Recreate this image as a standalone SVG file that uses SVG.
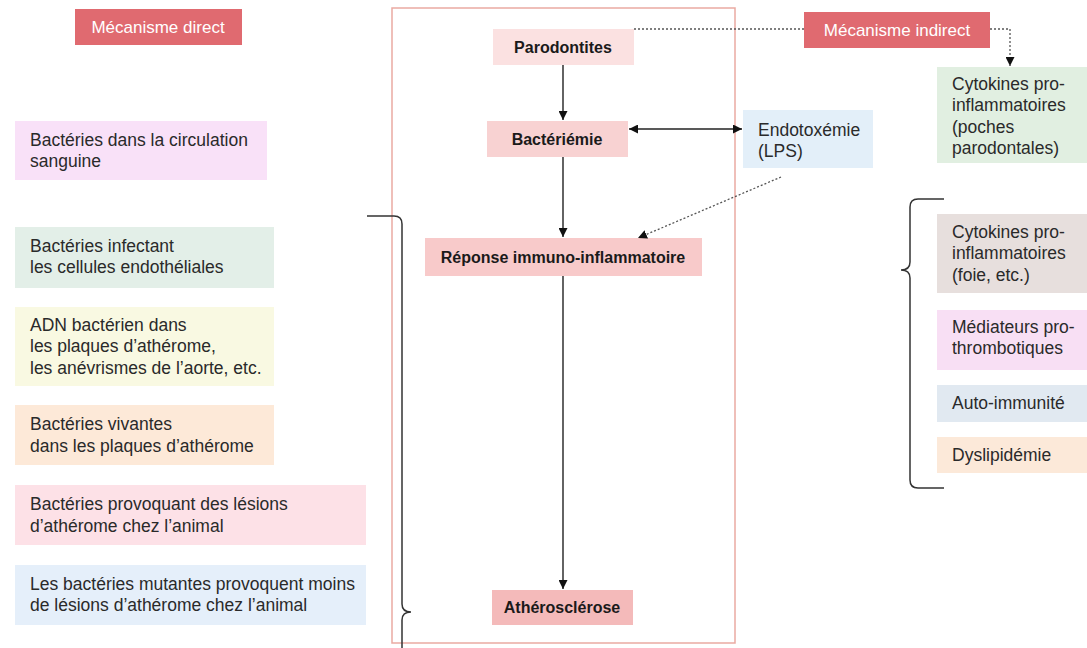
<svg xmlns="http://www.w3.org/2000/svg" width="1087" height="648" viewBox="0 0 1087 648">
<style>
text{font-family:"Liberation Sans",Arial,Helvetica,sans-serif;font-size:17.5px;fill:#2a2a2a}
.b{font-weight:bold;font-size:16px;text-anchor:middle;fill:#1a1a1a}
.hd{fill:#ffffff;text-anchor:middle;font-size:17px}
.hdbox{fill:#e06a70}
.ln{stroke:#222;stroke-width:1.4;fill:none}
.dot{stroke:#555;stroke-width:1.3;fill:none;stroke-dasharray:2 2}
.br{stroke:#333;stroke-width:1.5;fill:none}
</style>
<defs>
<marker id="ah" viewBox="0 0 10 10" refX="10" refY="5" markerWidth="9" markerHeight="9" markerUnits="userSpaceOnUse" orient="auto-start-reverse">
<path d="M0,0 L10,5 L0,10 Z" fill="#111"/>
</marker>
</defs>
<rect width="1087" height="648" fill="#ffffff"/>

<g id="frame"><rect x="392" y="8" width="343" height="635" fill="none" stroke="#eaaaa2" stroke-width="1.5"/></g>

<g id="mecanisme-direct"><rect class="hdbox" x="75" y="9" width="167" height="36"/><text class="hd" x="158" y="33">Mécanisme direct</text></g>
<g id="mecanisme-indirect"><rect class="hdbox" x="804" y="12" width="186" height="36"/><text class="hd" x="897" y="36">Mécanisme indirect</text></g>

<g id="parodontites"><rect x="493" y="29" width="141" height="36" fill="#fbe1e1"/><text class="b" x="563" y="53">Parodontites</text></g>
<g id="bacteriemie"><rect x="487" y="121" width="141" height="36" fill="#f8d2d2"/><text class="b" x="557" y="145">Bactériémie</text></g>
<g id="endotoxemie"><rect x="743" y="110" width="130" height="58" fill="#e3eff9"/><text x="758" y="136">Endotoxémie</text><text x="758" y="157">(LPS)</text></g>
<g id="reponse"><rect x="425" y="238" width="277" height="38" fill="#f8caca"/><text class="b" x="563" y="263">Réponse immuno-inflammatoire</text></g>
<g id="atherosclerose"><rect x="492" y="590" width="141" height="35" fill="#f4baba"/><text class="b" x="562" y="613">Athérosclérose</text></g>

<g id="cytokines-poches"><rect x="937" y="67" width="150" height="96" fill="#e1efe1"/><text x="952" y="90">Cytokines pro-</text><text x="952" y="111">inflammatoires</text><text x="952" y="133">(poches</text><text x="952" y="154">parodontales)</text></g>
<g id="cytokines-foie"><rect x="937" y="214" width="150" height="79" fill="#e7dfdd"/><text x="952" y="238">Cytokines pro-</text><text x="952" y="259">inflammatoires</text><text x="952" y="281">(foie, etc.)</text></g>
<g id="mediateurs"><rect x="937" y="310" width="150" height="60" fill="#f8dff4"/><text x="952" y="333">Médiateurs pro-</text><text x="952" y="354">thrombotiques</text></g>
<g id="auto-immunite"><rect x="937" y="385" width="150" height="37" fill="#e1e9f1"/><text x="952" y="409">Auto-immunité</text></g>
<g id="dyslipidemie"><rect x="937" y="437" width="150" height="36" fill="#fce9d9"/><text x="952" y="461">Dyslipidémie</text></g>

<g id="circulation"><rect x="15" y="121" width="252" height="59" fill="#f9e1f8"/><text x="30" y="146">Bactéries dans la circulation</text><text x="30" y="167">sanguine</text></g>
<g id="endotheliales"><rect x="15" y="227" width="259" height="61" fill="#e3efe8"/><text x="30" y="252">Bactéries infectant</text><text x="30" y="273">les cellules endothéliales</text></g>
<g id="adn"><rect x="15" y="307" width="259" height="79" fill="#f9f9e2"/><text x="30" y="331">ADN bactérien dans</text><text x="30" y="352">les plaques d’athérome,</text><text x="30" y="374">les anévrismes de l’aorte, etc.</text></g>
<g id="vivantes"><rect x="15" y="405" width="259" height="60" fill="#fde9d8"/><text x="30" y="430">Bactéries vivantes</text><text x="30" y="452">dans les plaques d’athérome</text></g>
<g id="provoquant"><rect x="15" y="485" width="351" height="60" fill="#fde1e7"/><text x="30" y="510">Bactéries provoquant des lésions</text><text x="30" y="532">d’athérome chez l’animal</text></g>
<g id="mutantes"><rect x="15" y="565" width="351" height="60" fill="#e5effa"/><text x="30" y="590">Les bactéries mutantes provoquent moins</text><text x="30" y="611">de lésions d’athérome chez l’animal</text></g>

<g id="connectors">
<line class="ln" x1="563" y1="65" x2="563" y2="120" marker-end="url(#ah)"/>
<line class="ln" x1="629" y1="129" x2="742" y2="129" marker-start="url(#ah)" marker-end="url(#ah)"/>
<line class="ln" x1="563" y1="157" x2="563" y2="237" marker-end="url(#ah)"/>
<line class="ln" x1="563" y1="276" x2="563" y2="589" marker-end="url(#ah)"/>
<line class="dot" x1="781" y1="177" x2="638" y2="238" marker-end="url(#ah)"/>
<line class="dot" x1="634" y1="29" x2="804" y2="29"/>
<polyline class="dot" points="990,29 1010,29 1010,66" marker-end="url(#ah)"/>
<path class="br" d="M367,216 L394,216 Q402,216 402,224 L402,604 Q402,612 411,612 Q402,612 402,620 L402,648"/>
<path class="br" d="M944,199 L918,199 Q910,199 910,207 L910,262 Q910,270 901,270 Q910,270 910,278 L910,480 Q910,488 918,488 L944,488"/>
</g>
</svg>
